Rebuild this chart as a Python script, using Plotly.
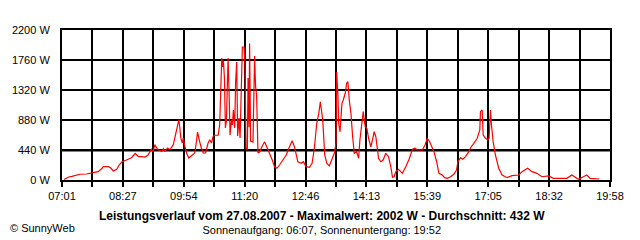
import plotly.graph_objects as go

# Time of day in minutes since midnight, power in W
time_min = [423.8, 430.5, 435.1, 439.4, 446.4, 455.9, 465.2, 472.3, 477.5, 479.6,
            487.0, 490.2, 493.8, 498.7, 501.5, 505.8, 512.4, 519.5, 524.8, 529.4,
            534.0, 538.7, 542.9, 545.7, 547.7, 550.0, 552.8, 555.2, 557.6, 562.3,
            564.7, 566.9, 570.7, 574.0, 578.8, 582.0, 584.9, 586.7, 588.1, 589.5,
            591.5, 592.9, 595.2, 597.6, 600.8, 604.7, 609.3, 611.7, 613.1, 615.0,
            617.8, 621.2, 624.4, 628.2, 630.5, 632.9, 635.3, 637.6, 642.4, 644.6,
            646.0, 646.8, 647.5, 648.9, 649.9, 651.3, 652.7, 654.1, 655.5, 656.5,
            657.9, 659.3, 661.2, 662.6, 664.0, 665.8, 667.2, 668.7, 670.1, 672.0,
            673.5, 675.3, 676.7, 679.1, 680.5, 681.9, 683.8, 684.8, 686.2, 687.0,
            688.4, 691.8, 692.7, 694.1, 695.5, 696.9, 698.9, 701.1, 705.0, 708.2,
            711.6, 715.3, 719.1, 722.3, 725.7, 729.4, 734.2, 738.9, 742.7, 747.3,
            750.6, 753.0, 755.4, 760.1, 763.3, 767.1, 771.8, 775.6, 778.8, 782.2,
            785.1, 787.3, 790.7, 793.5, 796.4, 800.0, 803.8, 807.1, 809.5, 810.5,
            812.3, 813.3, 815.2, 818.0, 819.8, 822.6, 824.6, 826.4, 828.3, 830.7,
            833.1, 835.4, 838.7, 841.6, 843.4, 846.2, 848.1, 850.9, 853.3, 855.7,
            858.9, 861.3, 863.6, 866.0, 868.4, 869.8, 873.1, 876.3, 880.1, 883.9,
            887.2, 889.6, 891.9, 894.3, 898.1, 901.3, 903.7, 908.4, 913.1, 917.9,
            921.5, 924.9, 932.0, 935.7, 939.0, 942.3, 946.1, 948.4, 952.2, 955.4,
            960.2, 963.5, 967.3, 972.0, 976.6, 980.4, 982.3, 986.1, 989.3, 993.2,
            997.8, 1001.2, 1004.9, 1009.7, 1013.4, 1014.3, 1016.7, 1018.2, 1021.4, 1024.7,
            1026.6, 1028.5, 1029.9, 1032.3, 1035.5, 1040.2, 1045.0, 1052.1, 1059.1, 1068.5,
            1073.3, 1081.2, 1087.4, 1094.4, 1101.5, 1110.8, 1117.9, 1136.8, 1143.9, 1148.5,
            1153.2, 1160.3, 1165.1, 1169.7, 1176.8, 1182.9]

power_w = [7, 44, 54, 63, 84, 88, 103, 122, 169, 195,
           195, 176, 132, 157, 213, 264, 293, 327, 389, 342,
           342, 337, 367, 415, 450, 415, 518, 469, 444, 421,
           459, 421, 469, 444, 518, 664, 836, 884, 763, 616,
           543, 616, 494, 396, 323, 362, 396, 568, 704, 616,
           494, 396, 396, 543, 591, 543, 641, 656, 656, 811,
           1159, 1584, 1789, 1657, 1745, 1496, 763, 865, 1247, 1789,
           1276, 660, 880, 807, 1027, 763, 1437, 1731, 645, 909,
           616, 1643, 1951, 1951, 1687, 469, 440, 1496, 777, 2002,
           572, 557, 1173, 1819, 1364, 1247, 396, 411, 499, 562,
           480, 392, 293, 195, 172, 220, 293, 367, 465, 576,
           488, 392, 268, 245, 268, 195, 186, 245, 465, 832,
           978, 1148, 880, 367, 245, 205, 293, 392, 538, 1584,
           1222, 832, 708, 1125, 1173, 1272, 1418, 1442, 1173, 978,
           635, 392, 415, 318, 587, 832, 1002, 782, 758, 612,
           488, 587, 708, 635, 415, 318, 268, 293, 392, 342,
           195, 40, 48, 122, 157, 122, 98, 195, 304, 450,
           465, 440, 440, 513, 612, 562, 480, 415, 268, 98,
           73, 34, 25, 48, 84, 147, 268, 327, 304, 342,
           415, 488, 538, 612, 733, 1002, 1027, 660, 612, 587,
           612, 1027, 807, 562, 367, 172, 73, 34, 63, 73,
           122, 172, 122, 98, 48, 59, 25, 25, 73, 40,
           10, 48, 73, 25, 15, 15]

average_w = 432
max_w = 2002
date_label = "27.08.2007"
sunrise = "06:07"
sunset = "19:52"

y_tick_values = [0, 440, 880, 1320, 1760, 2200]
y_tick_labels = ["0 W", "440 W", "880 W", "1320 W", "1760 W", "2200 W"]
x_tick_labels = ["07:01", "08:27", "09:54", "11:20", "12:46",
                 "14:13", "15:39", "17:05", "18:32", "19:58"]


def to_min(s):
    h, m = s.split(":")
    return int(h) * 60 + int(m)


x_start = to_min(x_tick_labels[0])
x_end = to_min(x_tick_labels[-1])
n_lab = len(x_tick_labels) - 1
step = (x_end - x_start) / n_lab
x_tickvals = []
x_ticktext = []
for i in range(2 * n_lab + 1):
    x_tickvals.append(x_start + i * step / 2)
    x_ticktext.append(x_tick_labels[i // 2] if i % 2 == 0 else "")

FONT = "Arial, Liberation Sans, sans-serif"

fig = go.Figure()
fig.add_trace(go.Scatter(x=time_min, y=power_w, mode="lines",
                         line=dict(color="#ff0000", width=1.2),
                         hoverinfo="skip", showlegend=False))

fig.add_shape(type="line", xref="x", yref="y", x0=x_start, x1=x_end,
              y0=average_w, y1=average_w, layer="below",
              line=dict(color="#808080", width=3))

fig.update_layout(
    width=640, height=240,
    margin=dict(l=60, r=30, t=30, b=60),
    paper_bgcolor="white", plot_bgcolor="white",
    font=dict(family=FONT, size=11, color="black"),
    showlegend=False,
)
fig.update_xaxes(range=[x_start, x_end], tickmode="array",
                 tickvals=x_tickvals, ticktext=x_ticktext,
                 showgrid=True, gridcolor="black", gridwidth=2,
                 ticks="outside", ticklen=5, tickwidth=2, tickcolor="black",
                 showline=True, linecolor="black", linewidth=2, mirror=True,
                 zeroline=False, tickfont=dict(size=11))
fig.update_yaxes(range=[0, 2200], tickmode="array",
                 tickvals=y_tick_values, ticktext=y_tick_labels,
                 showgrid=True, gridcolor="black", gridwidth=2,
                 ticks="", ticklabelstandoff=8,
                 showline=True, linecolor="black", linewidth=2, mirror=True,
                 zeroline=False, tickfont=dict(size=11))

title = (f"Leistungsverlauf vom {date_label} - Maximalwert: {max_w} W"
         f" - Durchschnitt: {average_w} W")
subtitle = f"Sonnenaufgang: {sunrise}, Sonnenuntergang: {sunset}"
fig.add_annotation(
    text=f"<b><span style='font-size:12px'>{title}</span></b><br>{subtitle}",
    xref="paper", yref="paper", x=0.4736, y=-0.2843,
    xanchor="center", yanchor="middle", align="center",
    showarrow=False, font=dict(size=11, family=FONT))
fig.add_annotation(text="© SunnyWeb", xref="paper", yref="paper",
                   x=-0.0982, y=-0.322, xanchor="left", yanchor="middle",
                   showarrow=False, font=dict(size=11, family=FONT))

fig.write_html("out.html")
